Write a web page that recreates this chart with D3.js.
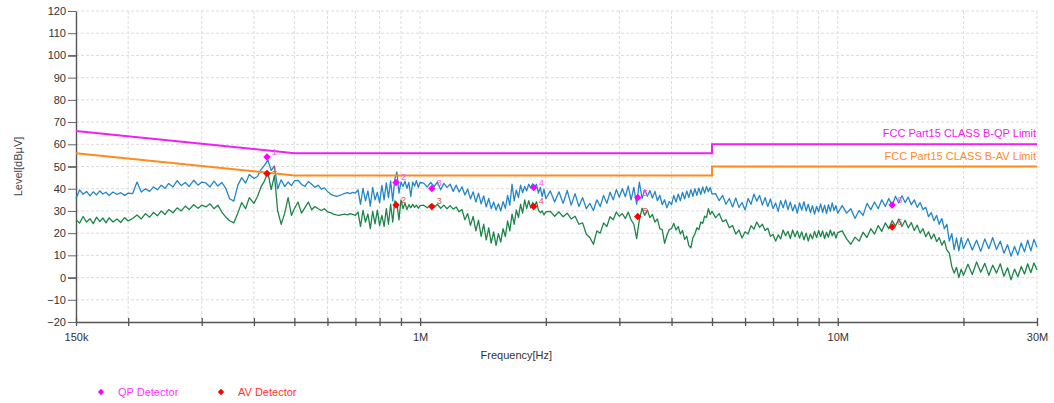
<!DOCTYPE html>
<html>
<head>
<meta charset="utf-8">
<script src="https://cdnjs.cloudflare.com/ajax/libs/d3/7.8.5/d3.min.js"></script>
<style>
body { margin: 0; background: #fff; }
svg text { font-family: "Liberation Sans", Arial, sans-serif; }
</style>
</head>
<body>
<div id="emi-chart"></div>
<script>
// scan frequencies in MHz
var freqMHz = [
  0.150,0.153,0.156,0.159,0.162,0.165,0.168,0.171,0.174,0.177,0.180,0.184,0.188,0.192,0.196,0.200,
  0.205,0.210,0.215,0.220,0.225,0.230,0.235,0.240,0.245,0.250,0.256,0.262,0.268,0.274,0.280,0.287,0.294,0.300,
  0.307,0.314,0.321,0.328,0.335,0.342,0.350,0.358,0.366,0.374,0.382,0.390,0.400,
  0.408,0.416,0.424,0.432,0.440,0.448,0.456,0.465,0.474,0.483,0.492,0.500,
  0.51,0.52,0.53,0.54,0.55,0.56,0.57,0.58,0.59,0.60,
  0.61,0.62,0.63,0.64,0.65,0.66,0.67,0.68,0.69,0.70,
  0.71,0.72,0.73,0.74,0.75,0.76,0.77,0.78,0.79,0.80,
  0.81,0.82,0.83,0.84,0.85,0.86,0.87,0.88,0.89,0.90,
  0.91,0.92,0.93,0.94,0.95,0.96,0.97,0.98,0.99,1.00,
  1.02,1.04,1.06,1.08,1.10,1.12,1.14,1.16,1.18,1.20,1.22,1.24,1.26,1.28,1.30,1.32,1.34,1.36,1.38,1.40,
  1.42,1.44,1.46,1.48,1.50,1.52,1.54,1.56,1.58,1.60,1.62,1.64,1.66,1.68,1.70,1.72,1.74,1.76,1.78,1.80,
  1.82,1.84,1.86,1.88,1.90,1.92,1.94,1.96,1.98,2.00,
  2.05,2.10,2.15,2.20,2.25,2.30,2.35,2.40,2.45,2.50,2.55,2.60,2.65,2.70,2.75,2.80,2.85,2.90,2.95,3.00,
  3.05,3.10,3.15,3.20,3.25,3.30,3.35,3.40,3.45,3.50,3.55,3.60,3.65,3.70,3.75,3.80,3.85,3.90,3.95,4.00,
  4.05,4.10,4.15,4.20,4.25,4.30,4.35,4.40,4.45,4.50,4.55,4.60,4.65,4.70,4.75,4.80,4.85,4.90,4.95,5.00,
  5.1,5.2,5.3,5.4,5.5,5.6,5.7,5.8,5.9,6.0,6.1,6.2,6.3,6.4,6.5,6.6,6.7,6.8,6.9,7.0,
  7.1,7.2,7.3,7.4,7.5,7.6,7.7,7.8,7.9,8.0,8.1,8.2,8.3,8.4,8.5,8.6,8.7,8.8,8.9,9.0,
  9.1,9.2,9.3,9.4,9.5,9.6,9.7,9.8,9.9,10.0,
  10.25,10.5,10.75,11,11.25,11.5,11.75,12,12.25,12.5,12.75,13,13.25,13.5,13.75,14,14.25,14.5,14.75,15,
  15.25,15.5,15.75,16,16.25,16.5,16.75,17,17.25,17.5,17.75,18,18.25,18.5,18.75,19,19.25,19.5,19.75,20,
  20.5,21,21.5,22,22.5,23,23.5,24,24.5,25,25.5,26,26.5,27,27.5,28,28.5,29,29.5,30
];

// peak trace (blue), dBuV
var peakLevel = [
  35.5,39.5,37.5,38.8,36.8,38.6,37.2,39.0,37.6,38.4,36.9,38.5,37.4,38.2,37.0,38.0,
  37.8,43.0,38.5,40.0,38.8,40.8,39.5,41.6,40.2,42.4,40.8,43.6,41.4,42.8,41.0,43.8,41.6,43.0,
  42.6,40.8,43.4,41.2,42.8,40.4,35.5,34.4,41.5,45.0,42.5,46.4,44.6,
  45.5,48.6,50.5,53.0,48.2,50.2,40.0,44.0,41.0,43.0,41.4,43.6,
  43.8,42.0,41.0,43.2,42.0,40.6,41.6,39.8,40.4,38.8,
  37.6,37.0,36.6,36.9,37.4,37.9,38.2,37.8,38.4,38.0,
  39.5,33.0,40.2,34.5,39.0,32.2,40.6,35.0,38.4,33.6,
  41.5,35.0,42.6,36.0,43.5,34.5,44.5,47.5,38.0,43.0,
  41.0,43.4,40.2,42.8,36.5,43.0,41.2,43.6,40.6,42.8,
  42.5,40.8,42.8,41.0,43.0,39.5,42.4,40.6,42.0,38.8,41.6,38.5,40.8,37.2,39.8,35.4,38.6,34.0,38.0,33.2,
  36.8,31.8,35.6,31.0,34.0,30.4,33.2,30.0,34.2,31.2,37.0,32.6,42.0,34.5,39.4,36.0,41.6,38.2,41.0,39.0,
  42.0,40.4,42.2,40.6,42.0,38.0,40.6,36.4,39.8,35.5,
  39.0,34.0,38.6,33.4,39.2,32.6,37.8,32.0,36.0,31.0,33.4,30.2,35.0,32.0,37.0,33.4,38.4,35.0,39.6,36.2,
  40.0,36.4,41.2,35.0,40.6,33.0,43.0,35.6,39.6,36.6,39.2,35.8,38.8,34.6,37.0,32.8,35.0,31.4,34.2,32.8,
  37.0,34.0,37.6,34.6,38.4,35.4,39.0,36.0,39.6,36.6,40.0,37.0,40.4,37.4,40.8,38.0,41.0,38.6,40.6,37.6,
  37.8,34.6,37.0,33.0,35.6,31.8,35.8,31.6,33.8,30.4,35.6,33.0,37.6,34.4,37.0,32.6,36.0,32.0,35.4,31.0,
  33.6,29.8,34.6,31.4,35.0,30.6,34.0,30.0,32.8,29.0,33.6,30.4,34.2,30.0,33.0,29.2,32.4,28.6,32.0,29.6,
  33.2,29.4,32.6,28.8,32.8,29.8,33.6,30.2,32.4,29.0,
  32.4,29.0,31.0,26.6,30.2,28.0,33.4,30.6,34.0,31.0,35.0,32.0,35.6,32.4,36.6,33.6,36.8,33.8,36.2,32.8,
  35.0,31.6,33.8,30.6,31.6,27.4,29.2,25.6,28.0,24.0,26.6,22.0,24.0,16.4,19.8,12.6,17.8,12.0,18.0,13.0,
  17.6,12.4,16.8,11.8,17.4,13.0,18.0,12.6,16.4,11.0,14.8,9.6,14.0,10.2,15.6,11.6,16.8,12.0,17.2,13.6
];

// average trace (green), dBuV
var avgLevel = [
  26.0,24.5,27.5,25.0,26.5,24.3,27.2,25.2,26.8,24.6,26.9,25.0,26.4,24.8,27.0,25.5,
  26.6,28.2,26.4,28.8,27.2,29.3,27.8,30.0,28.4,30.6,29.2,31.4,30.0,32.2,30.6,32.8,31.2,32.6,
  31.8,33.2,31.0,32.6,29.5,27.4,25.6,24.6,29.0,33.8,31.0,36.0,33.4,
  36.5,40.8,43.5,47.5,39.6,46.0,30.0,24.0,29.0,36.0,28.0,31.0,
  34.0,29.0,31.5,34.0,30.5,32.0,31.0,30.2,31.0,29.6,
  29.2,28.6,28.2,28.0,28.3,28.6,28.2,28.8,28.4,28.0,
  29.5,23.0,30.2,25.0,28.6,22.0,29.8,24.2,30.4,23.4,
  28.0,23.0,31.0,24.0,33.0,25.0,34.5,33.0,26.0,35.0,
  31.0,33.5,30.6,32.8,31.4,33.0,31.6,32.6,31.2,32.4,
  32.6,31.4,32.8,31.6,33.0,31.2,32.6,31.0,32.4,30.8,31.8,29.6,30.6,26.0,28.8,23.5,27.5,21.0,25.8,18.5,
  24.0,17.0,22.4,15.5,20.6,14.5,19.8,16.0,22.0,18.5,25.5,21.0,28.6,24.0,30.5,27.0,33.0,29.0,35.0,31.0,
  34.6,31.4,33.8,32.0,34.2,30.4,29.2,30.0,28.2,29.6,
  29.8,27.6,29.6,27.4,29.0,26.4,27.6,24.0,24.6,19.5,18.0,15.0,21.0,20.0,24.6,23.0,27.4,26.0,29.5,27.6,
  28.8,26.6,29.4,26.0,24.0,17.5,26.0,31.2,28.0,30.4,27.0,28.4,25.0,26.4,22.0,21.6,15.4,19.0,21.6,22.0,
  24.4,21.4,23.0,19.6,21.2,17.2,18.6,14.4,13.4,18.0,19.6,22.4,21.6,25.0,24.4,27.6,27.0,31.0,28.4,29.8,
  27.0,28.8,25.2,26.0,22.4,23.4,19.6,21.4,17.8,20.6,19.6,23.4,21.8,25.0,22.6,24.0,21.2,22.2,18.6,19.4,
  16.4,19.2,17.4,21.4,18.8,20.8,17.6,21.4,18.4,21.0,17.8,20.6,17.0,20.0,16.4,19.6,17.4,20.8,18.0,21.2,
  18.4,21.0,17.6,20.4,18.2,21.4,18.8,20.6,17.8,20.2,
  21.0,17.4,15.0,18.2,16.4,20.4,18.0,22.0,19.6,23.4,20.8,24.6,22.0,25.6,23.2,26.4,23.0,25.8,22.4,24.8,
  21.2,23.6,20.0,22.0,18.4,20.6,17.4,19.6,16.2,18.0,14.6,16.6,12.4,11.0,5.0,2.0,4.6,0.0,3.8,1.0,
  6.0,1.4,7.0,2.4,6.4,1.0,5.6,2.0,6.2,0.6,4.4,-1.0,3.8,0.4,5.0,1.6,6.2,2.2,6.6,3.4
];

// FCC Part15 class B limits
var limitFreq = [0.15, 0.5, 5, 5, 30];
var qpLimit = [66, 56, 56, 60, 60];
var avLimit = [56, 46, 46, 50, 50];

// final measurement points
var markerNo = [1, 2, 3, 4, 5, 6];
var markerFreq = [0.43, 0.876, 1.067, 1.87, 3.32, 13.5];
var qpValue = [54.3, 42.8, 40.1, 40.5, 36.0, 32.7];
var avValue = [46.8, 32.7, 32.0, 32.0, 27.5, 22.8];

// axis ticks
var yTicks = [-20, -10, 0, 10, 20, 30, 40, 50, 60, 70, 80, 90, 100, 110, 120];
var xTicks = [0.15, 0.2, 0.3, 0.4, 0.5, 0.6, 0.7, 0.8, 0.9, 1, 2, 3, 4, 5, 6, 7, 8, 9, 10, 20, 30];
var xLabelValues = [0.15, 1, 10, 30];
var xLabelText = ["150k", "1M", "10M", "30M"];

var svg, x, y;
var margin = {top: 11, right: 17, bottom: 81, left: 76},
    width = 1054 - margin.left - margin.right,
    height = 403 - margin.top - margin.bottom;

// rotated square, looks like the analyser's diamond
function diamond(size) {
    return d3.symbol().type(d3.symbolSquare).size(size)();
}

function drawChart() {
    var root = d3.select("#emi-chart")
        .append("svg")
        .attr("width", width + margin.left + margin.right)
        .attr("height", height + margin.top + margin.bottom);

    svg = root.append("g")
        .attr("transform", "translate(" + margin.left + "," + margin.top + ")");

    x = d3.scaleLog().domain([0.15, 30]).range([0, width]);
    y = d3.scaleLinear().domain([-20, 120]).range([height, 0]);

    // dotted grid
    svg.append("g").selectAll("line")
        .data(yTicks.filter(function (d) { return d > -20; }))
        .enter().append("line")
        .attr("x1", 0).attr("x2", width)
        .attr("y1", function (d) { return y(d); })
        .attr("y2", function (d) { return y(d); })
        .attr("stroke", "#dcdcdc").attr("stroke-dasharray", "3,2");
    svg.append("g").selectAll("line")
        .data(xTicks.filter(function (d) { return d > 0.15; }))
        .enter().append("line")
        .attr("y1", 0).attr("y2", height)
        .attr("x1", function (d) { return x(d); })
        .attr("x2", function (d) { return x(d); })
        .attr("stroke", "#dcdcdc").attr("stroke-dasharray", "3,2");

    // Y axis
    var yAxis = svg.append("g")
        .call(d3.axisLeft(y).tickValues(yTicks).tickSize(8).tickSizeOuter(0).tickPadding(2));
    yAxis.select(".domain").attr("stroke", "#555").attr("stroke-width", 1.4);
    yAxis.selectAll(".tick line").attr("stroke", "#666")
        .attr("stroke-width", function (d) { return d % 50 === 0 ? 1.8 : 1; });
    yAxis.selectAll(".tick text").attr("font-size", 11).attr("fill", "#333")
        .attr("font-family", "Liberation Sans, Arial, sans-serif");

    // X axis
    var xAxis = svg.append("g")
        .attr("transform", "translate(0," + height + ")")
        .call(d3.axisBottom(x).tickValues(xTicks).tickSize(4).tickSizeOuter(0).tickPadding(7)
            .tickFormat(function (d) {
                var i = xLabelValues.indexOf(d);
                return i < 0 ? "" : xLabelText[i];
            }));
    xAxis.select(".domain").attr("stroke", "#555").attr("stroke-width", 1.6);
    xAxis.selectAll(".tick line").attr("y1", -4).attr("stroke", "#555").attr("stroke-width", 1.3);
    xAxis.selectAll(".tick text").attr("font-size", 11).attr("fill", "#333")
        .attr("font-family", "Liberation Sans, Arial, sans-serif");

    // traces
    var peakData = freqMHz.map(function (f, i) { return {f: f, v: peakLevel[i]}; });
    var avgData = freqMHz.map(function (f, i) { return {f: f, v: avgLevel[i]}; });
    var trace = d3.line()
        .x(function (d) { return x(d.f); })
        .y(function (d) { return y(d.v); });

    svg.append("path").datum(peakData)
        .attr("d", trace).attr("fill", "none")
        .attr("stroke", "#2386c6").attr("stroke-width", 1.3)
        .attr("stroke-linejoin", "round");
    svg.append("path").datum(avgData)
        .attr("d", trace).attr("fill", "none")
        .attr("stroke", "#1d8549").attr("stroke-width", 1.3)
        .attr("stroke-linejoin", "round");

    // limit lines
    var limitLine = d3.line()
        .x(function (d) { return x(d[0]); })
        .y(function (d) { return y(d[1]); });
    svg.append("path").datum(d3.zip(limitFreq, qpLimit))
        .attr("d", limitLine).attr("fill", "none")
        .attr("stroke", "#f020f0").attr("stroke-width", 2);
    svg.append("path").datum(d3.zip(limitFreq, avLimit))
        .attr("d", limitLine).attr("fill", "none")
        .attr("stroke", "#ff8a1e").attr("stroke-width", 2);

    svg.append("text")
        .attr("x", width - 1).attr("y", y(qpLimit[4]) - 7)
        .attr("text-anchor", "end").attr("font-size", 11)
        .attr("fill", "#f020f0")
        .text("FCC Part15 CLASS B-QP Limit");
    svg.append("text")
        .attr("x", width - 1).attr("y", y(avLimit[4]) - 7)
        .attr("text-anchor", "end").attr("font-size", 11)
        .attr("fill", "#ff8a1e")
        .text("FCC Part15 CLASS B-AV Limit");

    // detector markers
    svg.append("g").selectAll("path")
        .data(markerFreq)
        .enter().append("path")
        .attr("d", diamond(28))
        .attr("transform", function (d, i) { return "translate(" + x(d) + "," + y(qpValue[i]) + ") rotate(45)"; })
        .attr("fill", "#ff00ff");
    svg.append("g").selectAll("path")
        .data(markerFreq)
        .enter().append("path")
        .attr("d", diamond(28))
        .attr("transform", function (d, i) { return "translate(" + x(d) + "," + y(avValue[i]) + ") rotate(45)"; })
        .attr("fill", "#ff0000");

    svg.append("g").selectAll("text")
        .data(markerFreq)
        .enter().append("text")
        .attr("x", function (d) { return x(d) + 5; })
        .attr("y", function (d, i) { return y(qpValue[i]) - 2; })
        .attr("font-size", 9).attr("fill", "#ff55ff")
        .text(function (d, i) { return markerNo[i]; });
    svg.append("g").selectAll("text")
        .data(markerFreq)
        .enter().append("text")
        .attr("x", function (d) { return x(d) + 5; })
        .attr("y", function (d, i) { return y(avValue[i]) - 2; })
        .attr("font-size", 9).attr("fill", "#e45050")
        .text(function (d, i) { return markerNo[i]; });

    // axis titles
    root.append("text")
        .attr("transform", "translate(22," + (margin.top + height / 2) + ") rotate(-90)")
        .attr("text-anchor", "middle").attr("font-size", 11).attr("fill", "#444")
        .text("Level[dBµV]");
    root.append("text")
        .attr("x", margin.left + x(1.7)).attr("y", 359)
        .attr("text-anchor", "middle").attr("font-size", 11).attr("fill", "#333")
        .text("Frequency[Hz]");

    // legend
    var legend = root.append("g").attr("transform", "translate(0,392)");
    legend.append("path").attr("d", diamond(20)).attr("transform", "translate(101,0) rotate(45)").attr("fill", "#ff00ff");
    legend.append("text").attr("x", 118).attr("y", 4).attr("font-size", 11).attr("fill", "#ff33ff").text("QP Detector");
    legend.append("path").attr("d", diamond(20)).attr("transform", "translate(221,0) rotate(45)").attr("fill", "#ff0000");
    legend.append("text").attr("x", 238).attr("y", 4).attr("font-size", 11).attr("fill", "#ff3333").text("AV Detector");
}

drawChart();
</script>
</body>
</html>
